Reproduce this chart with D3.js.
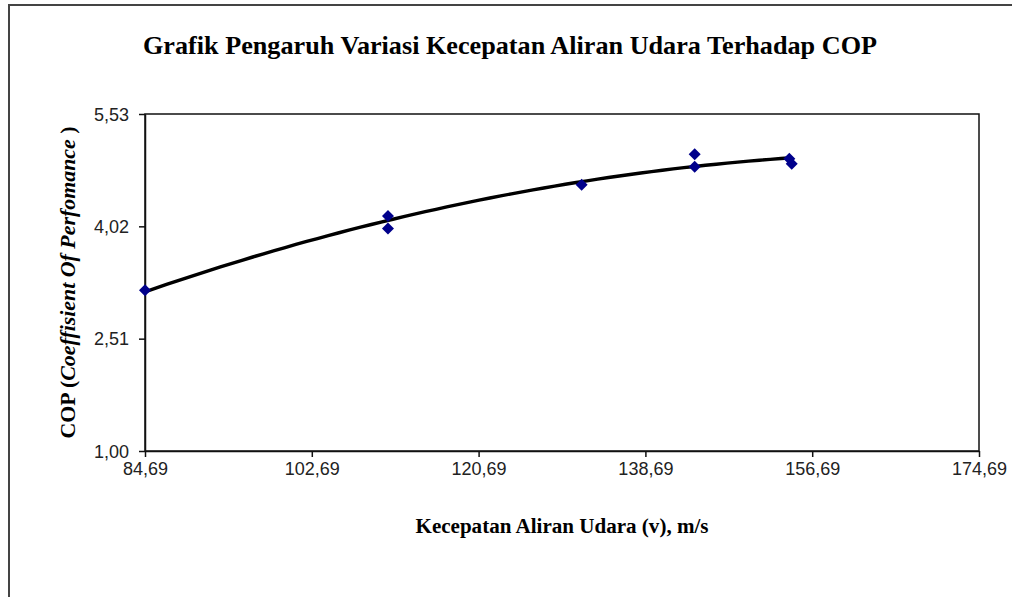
<!DOCTYPE html>
<html>
<head>
<meta charset="utf-8">
<script src="https://cdn.jsdelivr.net/npm/d3@7"></script>
<style>
  body { margin: 0; background: #fff; }
  svg { display: block; }
</style>
</head>
<body>
<svg id="chart" width="1012" height="597"></svg>
<script>
// measured points (kecepatan vs COP)
const speeds = [84.69, 110.91, 110.91, 131.81, 144.01, 144.01, 154.22, 154.48];
const copValues = [3.16, 4.16, 3.99, 4.58, 4.99, 4.82, 4.93, 4.86];
const xTicks = [84.69, 102.69, 120.69, 138.69, 156.69, 174.69];
const yTicks = [1.00, 2.51, 4.02, 5.53];

const svg = d3.select("#chart");
const plot = { left: 145, right: 979, top: 114, bottom: 451 };

// outer frame
svg.append("rect")
    .attr("x", 9).attr("y", 5)
    .attr("width", 1040).attr("height", 640)
    .attr("fill", "none")
    .attr("stroke", "#444")
    .attr("stroke-width", 2);

const x = d3.scaleLinear().domain([84.69, 174.69]).range([plot.left, plot.right]);
const y = d3.scaleLinear().domain([1.00, 5.53]).range([plot.bottom, plot.top]);

const fmt = d => d.toFixed(2).replace(".", ",");

// plot box
svg.append("rect")
    .attr("x", plot.left).attr("y", plot.top)
    .attr("width", plot.right - plot.left)
    .attr("height", plot.bottom - plot.top)
    .attr("fill", "none")
    .attr("stroke", "#111")
    .attr("stroke-width", 1.5);

// axes
const xAxis = svg.append("g")
    .attr("transform", `translate(0,${plot.bottom})`)
    .call(d3.axisBottom(x).tickValues(xTicks).tickFormat(fmt).tickSize(6).tickSizeOuter(0).tickPadding(5));
const yAxis = svg.append("g")
    .attr("transform", `translate(${plot.left},0)`)
    .call(d3.axisLeft(y).tickValues(yTicks).tickFormat(fmt).tickSize(6).tickSizeOuter(0).tickPadding(10));

[xAxis, yAxis].forEach(g => {
    g.select(".domain").attr("stroke", "#111").attr("stroke-width", 1.5);
    g.selectAll(".tick line").attr("stroke", "#111").attr("stroke-width", 1.5);
    g.selectAll(".tick text")
        .attr("fill", "#222")
        .style("font-family", "'Liberation Sans', Arial, sans-serif")
        .style("font-size", "18px");
});
yAxis.selectAll(".tick text").attr("dy", "0.35em");

// quadratic trend line fitted to the measured points
function polyFit2(xs, ys) {
    const n = xs.length;
    let s = [0, 0, 0, 0, 0], t = [0, 0, 0];
    for (let i = 0; i < n; i++) {
        const xi = xs[i] - 120;
        for (let k = 0; k < 5; k++) s[k] += Math.pow(xi, k);
        for (let k = 0; k < 3; k++) t[k] += ys[i] * Math.pow(xi, k);
    }
    const A = [[s[0], s[1], s[2], t[0]], [s[1], s[2], s[3], t[1]], [s[2], s[3], s[4], t[2]]];
    for (let i = 0; i < 3; i++) {
        for (let j = i + 1; j < 3; j++) {
            const f = A[j][i] / A[i][i];
            for (let k = i; k < 4; k++) A[j][k] -= f * A[i][k];
        }
    }
    const c = [0, 0, 0];
    for (let i = 2; i >= 0; i--) {
        let v = A[i][3];
        for (let k = i + 1; k < 3; k++) v -= A[i][k] * c[k];
        c[i] = v / A[i][i];
    }
    return v => c[0] + c[1] * (v - 120) + c[2] * (v - 120) * (v - 120);
}
const trend = polyFit2(speeds, copValues);
const xMin = d3.min(speeds), xMax = d3.max(speeds);
const trendPts = d3.range(0, 61).map(i => xMin + (xMax - xMin) * i / 60);

svg.append("path")
    .datum(trendPts)
    .attr("fill", "none")
    .attr("stroke", "#000")
    .attr("stroke-width", 3.4)
    .attr("d", d3.line().x(d => x(d)).y(d => y(trend(d))));

// data markers (diamonds = rotated squares)
svg.append("g")
    .selectAll("path")
    .data(speeds.map((s, i) => [s, copValues[i]]))
    .join("path")
    .attr("transform", d => `translate(${x(d[0])},${y(d[1])}) rotate(45)`)
    .attr("d", d3.symbol(d3.symbolSquare, 72))
    .attr("fill", "#00008b");

// title
svg.append("text")
    .attr("x", 510).attr("y", 54)
    .attr("text-anchor", "middle")
    .attr("textLength", 734)
    .attr("lengthAdjust", "spacingAndGlyphs")
    .style("font-family", "'Liberation Serif', 'Times New Roman', serif")
    .style("font-weight", "bold")
    .style("font-size", "26px")
    .text("Grafik Pengaruh Variasi Kecepatan Aliran Udara Terhadap COP");

// x axis title
svg.append("text")
    .attr("x", (plot.left + plot.right) / 2).attr("y", 533)
    .attr("text-anchor", "middle")
    .attr("textLength", 293)
    .attr("lengthAdjust", "spacingAndGlyphs")
    .style("font-family", "'Liberation Serif', 'Times New Roman', serif")
    .style("font-weight", "bold")
    .style("font-size", "20px")
    .text("Kecepatan Aliran Udara (v), m/s");

// y axis title
const yTitle = svg.append("text")
    .attr("transform", `translate(75,${(plot.top + plot.bottom) / 2}) rotate(-90)`)
    .attr("text-anchor", "middle")
    .attr("textLength", 312)
    .attr("lengthAdjust", "spacingAndGlyphs")
    .style("font-family", "'Liberation Serif', 'Times New Roman', serif")
    .style("font-weight", "bold")
    .style("font-size", "20px");
yTitle.append("tspan").text("COP (");
yTitle.append("tspan").style("font-style", "italic").text("Coeffisient Of Perfomance");
yTitle.append("tspan").text(" )");
</script>
</body>
</html>
